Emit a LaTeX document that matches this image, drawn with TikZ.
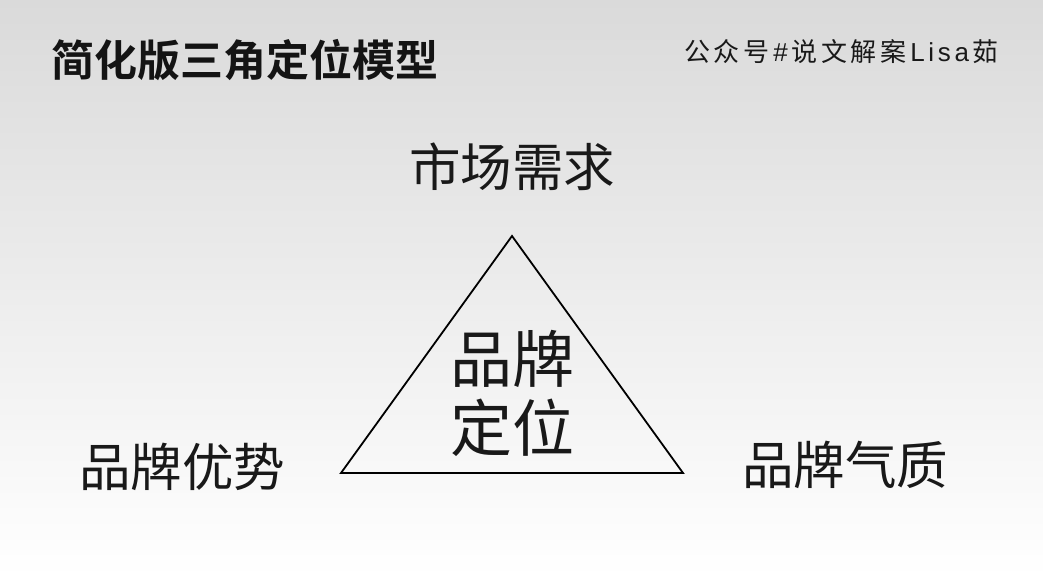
\documentclass[tikz,border=0pt]{standalone}
\usepackage{fontspec}
\newfontfamily\cjk{Noto Sans CJK SC}
\newfontfamily\cjkb{Noto Sans CJK SC Bold}
\newfontfamily\latf{Liberation Sans}
\newcommand\gp{\kern3.7pt}
\begin{document}
\begin{tikzpicture}[x=1pt,y=-1pt,
  lbl/.style={font=\cjk\fontsize{51.5}{54}\selectfont, inner sep=0pt, text=black!90},
  tri/.style={draw=black, line width=1.8pt, line join=miter}]
\shade[top color={rgb,255:red,218;green,218;blue,218}, bottom color=white] (0,0) rectangle (1043,578);
\useasboundingbox (0,0) rectangle (1043,578);
\node[anchor=west, inner sep=0pt, font=\cjkb\fontsize{43}{46}\selectfont, text=black!92] (title) at (51,60) {简化版三角定位模型};
\node[anchor=east, inner sep=0pt, font=\cjk\fontsize{26}{28}\selectfont, text=black!90] (brand) at (999,52) {公\gp 众\gp 号\gp{\latf\#}\gp 说\gp 文\gp 解\gp 案\gp{\latf L\gp i\gp s\gp a}\gp 茹};
\coordinate (A) at (512,236);
\coordinate (B) at (341,473);
\coordinate (C) at (683,473);
\draw[tri] (A) -- (B) -- (C) -- cycle;
\node[lbl] (top) at (512,167) {市场需求};
\node[lbl] (left) at (182,467) {品牌优势};
\node[lbl] (right) at (845,465) {品牌气质};
\node[font=\cjk\fontsize{62}{69}\selectfont, inner sep=0pt, align=center, text=black!90] (center) at (512,393) {品牌\\定位};
\end{tikzpicture}
\end{document}
